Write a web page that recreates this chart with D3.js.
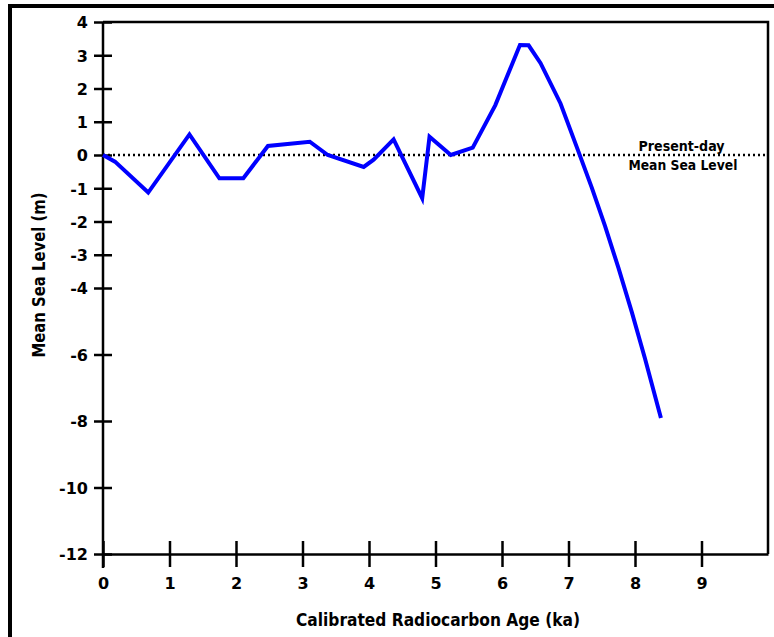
<!DOCTYPE html>
<html>
<head>
<meta charset="utf-8">
<script src="https://cdn.jsdelivr.net/npm/d3@7"></script>
<style>
  body { margin: 0; background: #fff; }
  svg { display: block; }
</style>
</head>
<body>
<div class="chart"></div>
<script>
// sea level curve
var ageKa = [0, 0.18, 0.68, 1.30, 1.75, 2.11, 2.48, 3.11, 3.38, 3.92, 4.07, 4.37, 4.80, 4.91, 5.23, 5.56,
    5.90, 6.27, 6.40, 6.58, 6.88, 7.15, 7.35, 7.55, 7.75, 7.95, 8.15, 8.39];
var seaLevel = [0, -0.2, -1.13, 0.62, -0.70, -0.70, 0.27, 0.40, 0.0, -0.36, -0.14, 0.47, -1.30, 0.55, 0.0, 0.22,
    1.5, 3.31, 3.30, 2.76, 1.55, 0.1, -0.98, -2.14, -3.39, -4.71, -6.12, -7.91];

var xTicks = [0, 1, 2, 3, 4, 5, 6, 7, 8, 9];
var yTicks = [4, 3, 2, 1, 0, -1, -2, -3, -4, -6, -8, -10, -12];

var W = 774, H = 637;
var margin = { top: 22, right: 6, bottom: 83, left: 103 },
    width = W - margin.left - margin.right,
    height = H - margin.top - margin.bottom;

var svg = d3.select(".chart")
    .append("svg")
    .attr("width", W)
    .attr("height", H);

// outer border
svg.append("rect")
    .attr("x", 10).attr("y", 6)
    .attr("width", 800).attr("height", 700)
    .attr("fill", "none")
    .attr("stroke", "#000")
    .attr("stroke-width", 4);

var g = svg.append("g")
    .attr("transform", "translate(" + margin.left + "," + margin.top + ")");

var x = d3.scaleLinear().domain([0, 10]).range([0, width]);
var y = d3.scaleLinear().domain([-12, 4]).range([height, 0]);

// plain hyphen minus like the original
var fmt = function (d) { return String(d); };
var tickFont = "'DejaVu Sans', Verdana, sans-serif";

// frame (top and right)
g.append("path")
    .attr("d", "M0,0H" + width + "V" + height)
    .attr("fill", "none")
    .attr("stroke", "#000")
    .attr("stroke-width", 2.5);

// x axis
var xAxis = g.append("g")
    .attr("transform", "translate(0," + height + ")")
    .call(d3.axisBottom(x).tickValues(xTicks).tickFormat(fmt).tickSizeOuter(0).tickPadding(0));
xAxis.select(".domain").attr("stroke-width", 2.5);
xAxis.selectAll(".tick line").attr("y1", -13).attr("y2", 13).attr("stroke-width", 2.5);
xAxis.selectAll(".tick text")
    .attr("y", 35).attr("dy", null)
    .style("font-family", tickFont)
    .style("font-weight", "bold")
    .style("font-size", "16px")
    .attr("fill", "#000");

// y axis
var yAxis = g.append("g")
    .call(d3.axisLeft(y).tickValues(yTicks).tickFormat(fmt).tickSizeOuter(0).tickPadding(0));
yAxis.select(".domain").attr("d", "M0,0V" + (height + 14)).attr("stroke-width", 2.5);
yAxis.selectAll(".tick line").attr("x1", -9).attr("x2", 9).attr("stroke-width", 2.5);
yAxis.selectAll(".tick text")
    .attr("x", -15).attr("dy", "0.36em")
    .style("font-family", tickFont)
    .style("font-weight", "bold")
    .style("font-size", "16px")
    .attr("fill", "#000");

// present-day mean sea level
g.append("line")
    .attr("x1", 0).attr("x2", width)
    .attr("y1", y(0)).attr("y2", y(0))
    .attr("stroke", "#000")
    .attr("stroke-width", 2.5)
    .attr("stroke-dasharray", "2,3");

var labelFont = "'DejaVu Sans Condensed', 'DejaVu Sans', sans-serif";
g.append("text")
    .attr("x", x(8.7)).attr("y", y(0) - 4)
    .attr("text-anchor", "middle")
    .attr("textLength", 86).attr("lengthAdjust", "spacingAndGlyphs")
    .style("font-family", labelFont).style("font-weight", "bold").style("font-size", "14px")
    .text("Present-day");
g.append("text")
    .attr("x", x(8.72)).attr("y", y(0) + 15)
    .attr("text-anchor", "middle")
    .attr("textLength", 109).attr("lengthAdjust", "spacingAndGlyphs")
    .style("font-family", labelFont).style("font-weight", "bold").style("font-size", "14px")
    .text("Mean Sea Level");

// the curve
var pts = ageKa.map(function (d, i) { return [d, seaLevel[i]]; });
var line = d3.line()
    .x(function (d) { return x(d[0]); })
    .y(function (d) { return y(d[1]); });
g.append("path")
    .datum(pts)
    .attr("d", line)
    .attr("fill", "none")
    .attr("stroke", "#0000ff")
    .attr("stroke-width", 4)
    .attr("stroke-linejoin", "miter");

// axis titles
svg.append("text")
    .attr("x", 438).attr("y", 626)
    .attr("text-anchor", "middle")
    .attr("textLength", 284).attr("lengthAdjust", "spacingAndGlyphs")
    .style("font-family", labelFont).style("font-weight", "bold").style("font-size", "18px")
    .text("Calibrated Radiocarbon Age (ka)");
svg.append("text")
    .attr("transform", "translate(45,275) rotate(-90)")
    .attr("text-anchor", "middle")
    .attr("textLength", 165).attr("lengthAdjust", "spacingAndGlyphs")
    .style("font-family", labelFont).style("font-weight", "bold").style("font-size", "18px")
    .text("Mean Sea Level (m)");
</script>
</body>
</html>
